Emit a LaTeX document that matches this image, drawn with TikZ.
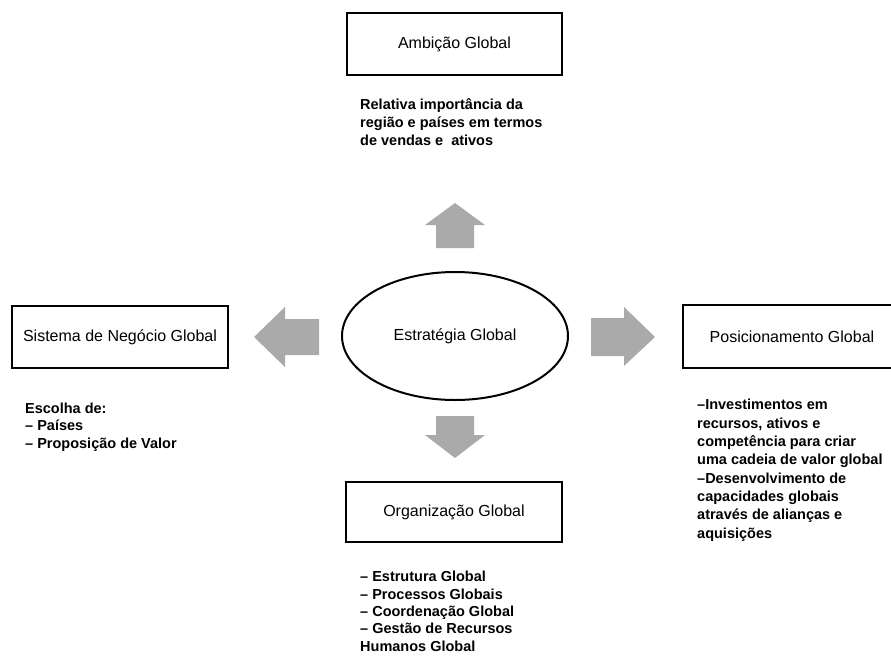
\documentclass[tikz,border=0pt]{standalone}
\usepackage{fontspec}
\setmainfont{Liberation Sans}
\usetikzlibrary{shapes.geometric}
\definecolor{arrowgray}{RGB}{170,170,170}
\tikzset{
  titlebox/.style={draw=black, line width=2pt, fill=white},
  titletext/.style={font=\fontsize{16}{19}\selectfont, inner sep=0pt},
  notes/.style={font=\fontsize{14.5}{18.3}\selectfont\bfseries, align=left, anchor=base west, inner sep=0pt},
  blockarrow/.style={fill=arrowgray, draw=none},
}
\begin{document}
\begin{tikzpicture}[x=1pt, y=-1pt]
  \useasboundingbox (0,0) rectangle (891,659);

  % central strategy ellipse
  \node[ellipse, draw=black, line width=2pt, minimum width=226pt, minimum height=128pt,
        font=\fontsize{16}{19}\selectfont, inner sep=0pt] (core) at (455,336) {Estratégia Global};

  % four surrounding boxes
  \draw[titlebox] (347,13) rectangle (562,75);
  \node[titletext] (amb) at (454.5,44) {Ambição Global};

  \draw[titlebox] (12,306) rectangle (228,368);
  \node[titletext] (sis) at (120,337) {Sistema de Negócio Global};

  \draw[titlebox] (683,305) rectangle (900,368);
  \node[titletext] (pos) at (792,337) {Posicionamento Global};

  \draw[titlebox] (346,482) rectangle (562,542);
  \node[titletext] (org) at (454,512) {Organização Global};

  % block arrows pointing away from the strategy
  \fill[blockarrow] (436,248) -- (436,225) -- (425,225) -- (455,203) -- (485,225) -- (474,225) -- (474,248) -- cycle;
  \fill[blockarrow] (436,416) -- (436,435) -- (425,435) -- (455,458) -- (485,435) -- (474,435) -- (474,416) -- cycle;
  \fill[blockarrow] (319,319) -- (285,319) -- (285,307) -- (254,337) -- (285,367) -- (285,355) -- (319,355) -- cycle;
  \fill[blockarrow] (591,318) -- (624,318) -- (624,307) -- (655,337) -- (624,366) -- (624,356) -- (591,356) -- cycle;

  % descriptive notes (anchored at the baseline of their last line)
  \node[notes] (ambnote) at (360,145.6) {Relativa importância da\\região e países em termos\\de vendas e \ ativos};
  \node[notes, font=\fontsize{14.5}{17.5}\selectfont\bfseries] (sisnote) at (25,448) {Escolha de:\\– Países\\– Proposição de Valor};
  \node[notes] (posnote) at (697,538) {–Investimentos em\\recursos, ativos e\\competência para criar\\uma cadeia de valor global\\–Desenvolvimento de\\capacidades globais\\através de alianças e\\aquisições};
  \node[notes, font=\fontsize{14.5}{17.3}\selectfont\bfseries] (orgnote) at (360,651) {– Estrutura Global\\– Processos Globais\\– Coordenação Global\\– Gestão de Recursos\\Humanos Global};
\end{tikzpicture}
\end{document}
